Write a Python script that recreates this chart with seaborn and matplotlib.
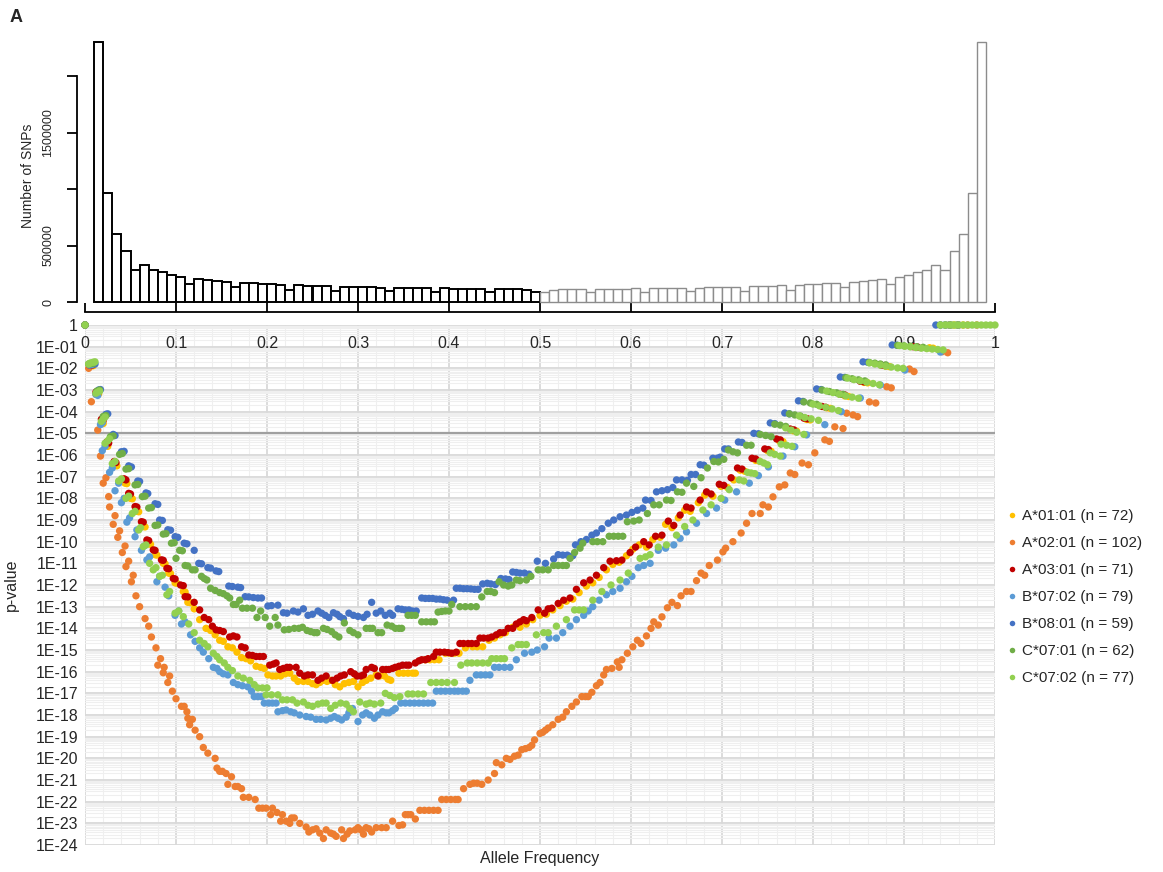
import numpy as np
import pandas as pd
import matplotlib
matplotlib.use("Agg")
import matplotlib.pyplot as plt
import seaborn as sns
from matplotlib.ticker import LogLocator, MultipleLocator, NullFormatter

sns.set_style("white")
plt.rcParams['font.family'] = ['Liberation Sans', 'DejaVu Sans']

# ---- histogram: number of SNPs per 0.01 allele-frequency bin (thousands) ----
snp_low = [2299, 967, 603, 450, 281, 328, 287, 263, 243, 225, 160, 204, 192, 186, 178,
           133, 169, 165, 162, 158, 154, 109, 148, 145, 142, 139, 101, 135, 133, 131,
           130, 128, 95, 126, 124, 123, 122, 90, 120, 118, 117, 116, 115, 88, 113, 112,
           111, 110, 92]          # bins 0.01 .. 0.50
snp_high = [92, 110, 111, 112, 113, 88, 115, 116, 117, 118, 120, 90, 122, 123, 124, 126,
            95, 128, 130, 131, 133, 135, 101, 139, 142, 145, 148, 109, 154, 158, 162, 165,
            169, 133, 178, 186, 192, 204, 160, 225, 243, 263, 287, 328, 281, 450, 603, 967,
            2299]                 # bins 0.50 .. 0.99

# ---- p-value scatter: (allele frequency, log10 p) ----
a0101 = [(0.0, 0.0), (0.006, -1.9), (0.009, -1.88), (0.012, -3.2), (0.015, -3.18), (0.018, -4.5),
         (0.02, -4.55), (0.023, -5.55), (0.025, -5.6), (0.033, -6.45), (0.035, -6.5), (0.044, -7.3),
         (0.046, -7.32), (0.05, -8.0), (0.052, -8.02), (0.057, -8.6), (0.059, -8.62), (0.064, -9.3),
         (0.066, -9.32), (0.07, -10.1), (0.072, -10.12), (0.077, -10.6), (0.079, -10.62), (0.086, -11.0),
         (0.088, -11.02), (0.092, -11.45), (0.094, -11.47), (0.099, -11.9), (0.101, -11.92), (0.108, -12.3),
         (0.11, -12.32), (0.113, -12.8), (0.116, -12.82), (0.12, -13.1), (0.126, -13.6), (0.133, -14.0),
         (0.138, -14.1), (0.143, -14.3), (0.148, -14.55), (0.152, -14.6), (0.157, -14.85), (0.162, -14.9),
         (0.167, -15.1), (0.172, -15.35), (0.177, -15.4), (0.182, -15.5), (0.188, -15.75), (0.193, -15.8),
         (0.197, -15.85), (0.201, -16.15), (0.206, -16.2), (0.21, -16.2), (0.215, -16.2), (0.22, -16.1),
         (0.225, -16.07), (0.23, -16.3), (0.234, -16.45), (0.24, -16.45), (0.245, -16.45), (0.25, -16.55),
         (0.254, -16.6), (0.258, -16.5), (0.262, -16.4), (0.266, -16.45), (0.27, -16.4), (0.275, -16.6),
         (0.28, -16.7), (0.285, -16.55), (0.29, -16.5), (0.295, -16.45), (0.3, -16.7), (0.305, -16.5),
         (0.309, -16.4), (0.314, -16.3), (0.32, -16.15), (0.324, -16.2), (0.329, -16.2), (0.333, -16.35),
         (0.336, -16.4), (0.345, -16.07), (0.35, -16.07), (0.355, -16.07), (0.36, -16.07), (0.363, -16.07),
         (0.374, -15.45), (0.379, -15.45), (0.384, -15.45), (0.389, -15.45), (0.396, -15.15), (0.401, -15.15),
         (0.406, -15.15), (0.411, -15.15), (0.418, -14.9), (0.426, -14.85), (0.431, -14.85), (0.437, -14.85),
         (0.444, -14.55), (0.45, -14.45), (0.456, -14.3), (0.462, -14.2), (0.47, -13.95), (0.478, -13.95),
         (0.485, -13.8), (0.492, -13.6), (0.5, -13.4), (0.507, -13.35), (0.514, -13.15), (0.522, -12.95),
         (0.529, -12.75), (0.536, -12.65), (0.543, -12.35), (0.551, -12.05), (0.558, -11.9), (0.565, -11.65),
         (0.573, -11.3), (0.58, -11.05), (0.587, -10.95), (0.595, -10.65), (0.602, -10.35), (0.609, -10.15),
         (0.617, -10.25), (0.624, -9.9), (0.632, -9.8), (0.638, -9.2), (0.645, -9.35), (0.652, -8.9),
         (0.659, -8.55), (0.665, -8.6), (0.674, -8.2), (0.681, -7.85), (0.69, -7.9), (0.699, -7.45),
         (0.706, -7.5), (0.713, -7.15), (0.72, -6.7), (0.725, -6.75), (0.737, -6.25), (0.741, -6.28),
         (0.75, -5.8), (0.754, -5.83), (0.763, -5.35), (0.767, -5.38), (0.778, -4.88), (0.782, -4.9),
         (0.793, -4.36), (0.797, -4.38), (0.815, -3.82), (0.819, -3.85), (0.835, -3.27), (0.839, -3.3),
         (0.856, -2.65), (0.86, -2.67), (0.88, -1.9), (0.884, -1.92), (0.928, -1.05), (0.932, -1.07),
         (0.955, 0.0), (0.965, 0.0)]

a0201 = [(0.0, 0.0), (0.004, -2.0), (0.007, -3.54), (0.014, -4.85), (0.017, -6.05), (0.02, -7.3),
         (0.023, -7.05), (0.026, -7.92), (0.027, -8.4), (0.031, -9.2), (0.033, -8.8), (0.036, -9.8),
         (0.038, -9.5), (0.041, -10.5), (0.044, -10.2), (0.045, -11.15), (0.048, -10.9), (0.051, -11.85),
         (0.053, -11.55), (0.056, -12.5), (0.06, -13.0), (0.066, -13.55), (0.07, -13.9), (0.073, -14.4),
         (0.078, -14.9), (0.08, -15.7), (0.083, -15.4), (0.086, -16.05), (0.087, -15.8), (0.091, -16.5),
         (0.093, -16.2), (0.096, -16.9), (0.1, -17.25), (0.106, -17.6), (0.109, -17.6), (0.112, -17.85),
         (0.113, -18.15), (0.115, -18.45), (0.118, -18.2), (0.121, -18.7), (0.126, -19.0), (0.13, -19.5),
         (0.135, -19.76), (0.143, -20.0), (0.145, -20.45), (0.148, -20.6), (0.151, -20.6), (0.155, -20.7),
         (0.157, -21.2), (0.161, -20.85), (0.165, -21.3), (0.168, -21.3), (0.172, -21.4), (0.174, -21.8),
         (0.18, -21.8), (0.187, -21.9), (0.191, -22.3), (0.195, -22.3), (0.199, -22.3), (0.204, -22.6),
         (0.206, -22.3), (0.211, -22.5), (0.215, -22.9), (0.217, -22.6), (0.221, -22.9), (0.225, -23.0),
         (0.227, -22.75), (0.23, -22.75), (0.236, -23.0), (0.243, -23.17), (0.246, -23.4), (0.25, -23.3),
         (0.254, -23.25), (0.258, -23.45), (0.262, -23.7), (0.265, -23.3), (0.27, -23.45), (0.273, -23.5),
         (0.276, -23.6), (0.282, -23.3), (0.284, -23.7), (0.288, -23.5), (0.291, -23.35), (0.297, -23.3),
         (0.3, -23.2), (0.303, -23.3), (0.306, -23.5), (0.309, -23.2), (0.312, -23.25), (0.315, -23.4),
         (0.32, -23.2), (0.326, -23.2), (0.331, -23.2), (0.338, -22.9), (0.345, -23.1), (0.349, -23.07),
         (0.352, -22.6), (0.355, -22.6), (0.358, -22.6), (0.363, -22.8), (0.368, -22.4), (0.373, -22.4),
         (0.378, -22.4), (0.383, -22.4), (0.388, -22.4), (0.392, -21.9), (0.397, -21.9), (0.402, -21.9),
         (0.407, -21.9), (0.41, -21.9), (0.416, -21.4), (0.423, -21.2), (0.427, -21.15), (0.431, -21.15),
         (0.436, -21.2), (0.443, -21.0), (0.45, -20.7), (0.452, -20.2), (0.458, -20.3), (0.463, -20.0),
         (0.467, -20.05), (0.472, -19.9), (0.476, -19.85), (0.48, -19.6), (0.484, -19.55), (0.488, -19.5),
         (0.491, -19.4), (0.494, -19.15), (0.5, -18.85), (0.503, -18.8), (0.506, -18.7), (0.509, -18.6),
         (0.514, -18.45), (0.52, -18.2), (0.525, -18.1), (0.529, -17.85), (0.535, -17.6), (0.54, -17.4),
         (0.546, -17.15), (0.55, -17.15), (0.553, -17.15), (0.557, -16.95), (0.562, -16.65), (0.566, -16.5),
         (0.57, -16.15), (0.573, -15.9), (0.579, -15.85), (0.585, -15.55), (0.587, -15.8), (0.59, -15.45),
         (0.596, -15.15), (0.602, -14.85), (0.607, -14.55), (0.611, -14.7), (0.617, -14.35), (0.622, -14.0),
         (0.625, -13.7), (0.63, -13.85), (0.634, -13.47), (0.64, -13.05), (0.645, -12.8), (0.651, -12.95),
         (0.655, -12.5), (0.661, -12.3), (0.666, -12.3), (0.672, -11.8), (0.677, -11.45), (0.681, -11.55),
         (0.686, -11.1), (0.695, -10.85), (0.701, -10.47), (0.704, -10.3), (0.712, -10.0), (0.721, -9.6),
         (0.727, -9.15), (0.733, -8.7), (0.742, -8.7), (0.745, -8.3), (0.751, -8.4), (0.756, -7.93),
         (0.763, -7.47), (0.769, -7.38), (0.775, -6.83), (0.78, -6.9), (0.788, -6.37), (0.795, -6.45),
         (0.802, -5.9), (0.813, -5.3), (0.818, -5.37), (0.824, -4.7), (0.833, -4.78), (0.837, -4.07),
         (0.844, -4.15), (0.849, -4.23), (0.862, -3.55), (0.869, -3.6), (0.881, -2.85), (0.886, -2.9),
         (0.906, -2.03), (0.911, -2.15), (0.942, -1.23), (0.948, -1.28), (0.97, 0.0), (0.98, 0.0)]

a0301 = [(0.0, 0.0), (0.005, -1.85), (0.008, -1.85), (0.012, -3.1), (0.014, -3.15), (0.018, -4.35),
         (0.02, -4.4), (0.024, -5.4), (0.026, -5.45), (0.032, -6.3), (0.034, -6.35), (0.043, -7.1),
         (0.045, -7.15), (0.048, -7.77), (0.05, -7.8), (0.055, -8.38), (0.057, -8.4), (0.062, -9.08),
         (0.064, -9.1), (0.068, -9.92), (0.07, -9.95), (0.075, -10.38), (0.077, -10.4), (0.084, -10.84),
         (0.086, -10.86), (0.09, -11.23), (0.092, -11.25), (0.097, -11.7), (0.099, -11.72), (0.105, -12.0),
         (0.108, -12.03), (0.11, -12.54), (0.113, -12.55), (0.12, -12.8), (0.126, -13.15), (0.131, -13.5),
         (0.136, -13.6), (0.14, -13.9), (0.144, -14.07), (0.148, -14.1), (0.152, -14.15), (0.159, -14.4),
         (0.163, -14.35), (0.167, -14.4), (0.172, -14.85), (0.176, -14.9), (0.18, -15.23), (0.184, -15.25),
         (0.188, -15.3), (0.192, -15.3), (0.196, -15.3), (0.203, -15.7), (0.207, -15.65), (0.21, -15.6),
         (0.214, -15.9), (0.218, -15.85), (0.222, -15.8), (0.225, -15.8), (0.232, -15.8), (0.236, -16.07),
         (0.241, -16.2), (0.245, -16.15), (0.25, -16.15), (0.256, -16.4), (0.26, -16.3), (0.265, -16.2),
         (0.272, -16.4), (0.277, -16.3), (0.281, -16.2), (0.285, -16.15), (0.292, -16.0), (0.296, -16.1),
         (0.299, -16.2), (0.303, -16.2), (0.306, -16.15), (0.309, -15.9), (0.315, -15.8), (0.318, -15.85),
         (0.322, -16.2), (0.327, -15.9), (0.331, -15.9), (0.334, -15.9), (0.338, -15.85), (0.341, -15.8),
         (0.345, -15.75), (0.349, -15.7), (0.353, -15.7), (0.356, -15.7), (0.363, -15.6), (0.367, -15.5),
         (0.37, -15.45), (0.374, -15.45), (0.377, -15.4), (0.383, -15.3), (0.386, -15.1), (0.39, -15.1),
         (0.395, -15.1), (0.399, -15.12), (0.403, -15.15), (0.408, -15.1), (0.412, -14.7), (0.416, -14.7),
         (0.421, -14.7), (0.425, -14.7), (0.43, -14.7), (0.434, -14.45), (0.438, -14.45), (0.443, -14.45),
         (0.447, -14.4), (0.452, -14.3), (0.456, -14.2), (0.46, -14.2), (0.465, -14.0), (0.47, -14.0),
         (0.474, -13.8), (0.478, -13.7), (0.482, -13.6), (0.485, -13.65), (0.491, -13.5), (0.498, -13.15),
         (0.505, -13.3), (0.509, -13.1), (0.513, -13.07), (0.52, -12.85), (0.526, -12.7), (0.533, -12.6),
         (0.54, -12.2), (0.548, -11.9), (0.555, -11.77), (0.562, -11.55), (0.57, -11.2), (0.577, -10.9),
         (0.584, -10.88), (0.59, -10.85), (0.599, -10.5), (0.605, -10.25), (0.614, -10.0), (0.62, -10.15),
         (0.627, -9.75), (0.634, -9.7), (0.641, -9.05), (0.647, -9.25), (0.654, -8.77), (0.661, -8.4),
         (0.666, -8.45), (0.676, -8.08), (0.683, -7.7), (0.688, -7.8), (0.697, -7.35), (0.702, -7.4),
         (0.71, -7.05), (0.717, -6.6), (0.722, -6.65), (0.733, -6.15), (0.737, -6.18), (0.747, -5.72),
         (0.751, -5.75), (0.76, -5.26), (0.764, -5.3), (0.775, -4.8), (0.779, -4.84), (0.79, -4.3),
         (0.794, -4.33), (0.81, -3.76), (0.814, -3.8), (0.83, -3.2), (0.835, -3.23), (0.852, -2.6),
         (0.856, -2.62), (0.875, -1.85), (0.879, -1.87), (0.91, -1.0), (0.915, -1.02), (0.95, 0.0),
         (0.96, 0.0)]

b0702 = [(0.0, 0.0), (0.005, -1.85), (0.008, -1.83), (0.012, -3.2), (0.014, -3.25), (0.017, -4.6),
         (0.019, -4.5), (0.019, -5.8), (0.022, -5.6), (0.027, -6.8), (0.03, -6.6), (0.033, -7.65),
         (0.037, -7.3), (0.04, -8.2), (0.043, -8.0), (0.046, -9.1), (0.049, -8.9), (0.055, -9.77),
         (0.057, -9.46), (0.062, -10.4), (0.065, -10.2), (0.068, -10.84), (0.071, -10.7), (0.079, -11.85),
         (0.082, -11.6), (0.088, -12.1), (0.092, -12.5), (0.099, -13.4), (0.103, -13.2), (0.106, -13.8),
         (0.11, -13.7), (0.116, -14.3), (0.121, -14.6), (0.126, -14.9), (0.13, -15.1), (0.136, -15.4),
         (0.141, -15.8), (0.145, -15.85), (0.148, -16.0), (0.152, -16.1), (0.157, -16.15), (0.163, -16.5),
         (0.168, -16.6), (0.173, -16.65), (0.179, -16.7), (0.183, -16.9), (0.186, -17.15), (0.19, -17.15),
         (0.194, -17.15), (0.197, -17.45), (0.202, -17.45), (0.206, -17.45), (0.21, -17.45), (0.212, -17.85),
         (0.217, -17.8), (0.221, -17.77), (0.226, -17.85), (0.23, -17.9), (0.236, -18.0), (0.243, -18.07),
         (0.248, -18.1), (0.254, -18.2), (0.259, -18.2), (0.265, -18.23), (0.27, -18.15), (0.274, -18.07),
         (0.278, -18.15), (0.282, -18.23), (0.287, -18.1), (0.29, -17.9), (0.294, -17.7), (0.3, -18.3),
         (0.305, -18.0), (0.309, -17.9), (0.313, -18.0), (0.318, -18.15), (0.322, -18.0), (0.327, -17.85),
         (0.331, -17.9), (0.334, -17.9), (0.338, -17.8), (0.341, -17.7), (0.347, -17.45), (0.352, -17.45),
         (0.357, -17.45), (0.362, -17.45), (0.367, -17.45), (0.372, -17.45), (0.377, -17.45), (0.382, -17.45),
         (0.386, -16.9), (0.391, -16.9), (0.396, -16.9), (0.401, -16.9), (0.406, -16.9), (0.41, -16.9),
         (0.415, -16.9), (0.419, -16.9), (0.423, -16.4), (0.43, -16.15), (0.435, -16.15), (0.44, -16.15),
         (0.445, -16.15), (0.45, -15.8), (0.455, -15.8), (0.461, -15.8), (0.467, -15.8), (0.474, -15.45),
         (0.483, -15.15), (0.491, -15.1), (0.497, -15.0), (0.505, -14.85), (0.51, -14.45), (0.518, -14.45),
         (0.525, -14.2), (0.533, -13.9), (0.54, -13.6), (0.548, -13.4), (0.553, -13.2), (0.558, -13.0),
         (0.565, -12.7), (0.573, -12.45), (0.58, -12.3), (0.588, -12.15), (0.595, -11.85), (0.601, -11.6),
         (0.608, -11.2), (0.614, -11.1), (0.621, -11.0), (0.63, -10.4), (0.638, -10.3), (0.647, -10.15),
         (0.654, -9.85), (0.661, -9.55), (0.672, -9.15), (0.683, -8.7), (0.694, -8.45), (0.703, -8.08),
         (0.716, -7.7), (0.73, -7.3), (0.74, -6.95), (0.751, -6.55), (0.767, -6.05), (0.78, -5.62),
         (0.793, -5.07), (0.813, -4.6), (0.831, -4.0), (0.852, -3.37), (0.874, -2.77), (0.901, -2.08),
         (0.94, -1.25), (0.95, 0.0), (0.96, 0.0)]

b0801 = [(0.0, 0.0), (0.006, -1.78), (0.009, -1.75), (0.011, -1.8), (0.015, -3.0), (0.017, -2.98),
         (0.023, -4.12), (0.025, -4.1), (0.031, -5.05), (0.033, -5.1), (0.04, -5.85), (0.043, -5.83),
         (0.048, -6.5), (0.051, -6.55), (0.058, -7.2), (0.06, -7.22), (0.067, -7.75), (0.069, -7.78),
         (0.077, -8.25), (0.08, -8.28), (0.082, -9.0), (0.085, -9.02), (0.091, -9.45), (0.094, -9.47),
         (0.099, -9.77), (0.102, -9.8), (0.109, -10.07), (0.112, -10.1), (0.12, -10.4), (0.125, -11.0),
         (0.128, -11.02), (0.135, -11.2), (0.138, -11.22), (0.144, -11.35), (0.147, -11.38), (0.158, -12.05),
         (0.162, -12.07), (0.168, -12.1), (0.171, -12.12), (0.176, -12.54), (0.18, -12.55), (0.185, -12.58),
         (0.19, -12.6), (0.194, -12.6), (0.201, -12.97), (0.205, -12.95), (0.212, -12.93), (0.218, -13.28),
         (0.222, -13.3), (0.229, -13.2), (0.234, -13.25), (0.24, -13.1), (0.245, -13.4), (0.25, -13.35),
         (0.256, -13.2), (0.26, -13.3), (0.264, -13.4), (0.268, -13.5), (0.273, -13.28), (0.277, -13.35),
         (0.28, -13.46), (0.284, -13.55), (0.29, -13.3), (0.295, -13.4), (0.3, -13.45), (0.306, -13.5),
         (0.31, -13.35), (0.315, -12.8), (0.32, -13.3), (0.325, -13.2), (0.33, -13.4), (0.335, -13.3),
         (0.338, -13.4), (0.344, -13.1), (0.348, -13.12), (0.352, -13.15), (0.356, -13.15), (0.36, -13.2),
         (0.364, -13.2), (0.37, -12.6), (0.374, -12.62), (0.378, -12.62), (0.382, -12.62), (0.386, -12.65),
         (0.39, -12.65), (0.394, -12.68), (0.398, -12.7), (0.405, -12.7), (0.408, -12.15), (0.412, -12.15),
         (0.416, -12.17), (0.42, -12.17), (0.424, -12.18), (0.428, -12.2), (0.432, -12.2), (0.437, -11.95),
         (0.442, -11.92), (0.446, -11.95), (0.451, -11.98), (0.457, -11.7), (0.462, -11.72), (0.466, -11.75),
         (0.47, -11.4), (0.474, -11.42), (0.478, -11.45), (0.483, -11.45), (0.488, -11.5), (0.497, -10.9),
         (0.506, -11.0), (0.515, -10.8), (0.52, -10.6), (0.525, -10.62), (0.53, -10.62), (0.536, -10.65),
         (0.539, -10.15), (0.545, -10.0), (0.551, -9.9), (0.557, -9.7), (0.562, -9.6), (0.568, -9.4),
         (0.575, -9.15), (0.581, -9.0), (0.588, -8.85), (0.595, -8.77), (0.601, -8.65), (0.607, -8.55),
         (0.613, -8.45), (0.616, -8.08), (0.622, -8.1), (0.628, -7.7), (0.634, -7.65), (0.64, -7.6),
         (0.646, -7.5), (0.65, -7.15), (0.656, -7.15), (0.662, -7.17), (0.666, -6.9), (0.671, -6.9),
         (0.676, -6.45), (0.68, -6.47), (0.69, -6.15), (0.695, -6.15), (0.698, -6.1), (0.703, -5.72),
         (0.707, -5.72), (0.718, -5.4), (0.722, -5.42), (0.735, -5.0), (0.74, -5.02), (0.753, -4.52),
         (0.758, -4.55), (0.769, -4.06), (0.774, -4.1), (0.784, -3.5), (0.789, -3.53), (0.804, -2.95),
         (0.809, -2.98), (0.83, -2.4), (0.835, -2.42), (0.855, -1.7), (0.86, -1.72), (0.887, -0.92),
         (0.892, -0.93), (0.935, 0.0), (0.94, 0.0), (0.945, 0.0)]

c0701 = [(0.0, 0.0), (0.004, -1.8), (0.007, -1.78), (0.009, -1.77), (0.013, -3.05), (0.016, -3.0),
         (0.02, -4.22), (0.023, -4.18), (0.028, -5.15), (0.031, -5.12), (0.038, -5.97), (0.041, -5.93),
         (0.045, -6.65), (0.048, -6.63), (0.055, -7.38), (0.058, -7.36), (0.063, -7.92), (0.066, -7.9),
         (0.07, -8.45), (0.073, -8.43), (0.077, -9.25), (0.08, -9.23), (0.086, -9.65), (0.089, -9.63),
         (0.095, -10.07), (0.098, -10.05), (0.1, -10.77), (0.104, -10.4), (0.107, -10.42), (0.11, -11.1),
         (0.113, -11.12), (0.118, -11.3), (0.121, -11.3), (0.128, -11.6), (0.131, -11.7), (0.134, -11.77),
         (0.138, -12.15), (0.143, -12.25), (0.148, -12.35), (0.152, -12.4), (0.156, -12.5), (0.159, -12.6),
         (0.163, -12.9), (0.166, -12.9), (0.17, -12.7), (0.173, -13.07), (0.178, -13.07), (0.184, -13.07),
         (0.189, -13.5), (0.193, -13.2), (0.198, -13.5), (0.203, -13.9), (0.209, -13.5), (0.212, -13.85),
         (0.219, -14.07), (0.224, -14.05), (0.23, -14.0), (0.235, -14.0), (0.239, -13.95), (0.244, -14.1),
         (0.248, -14.15), (0.252, -14.2), (0.255, -14.2), (0.262, -14.0), (0.266, -14.05), (0.271, -14.15),
         (0.275, -14.3), (0.279, -14.4), (0.285, -13.75), (0.291, -14.1), (0.295, -14.2), (0.3, -14.3),
         (0.309, -14.0), (0.313, -14.0), (0.316, -14.0), (0.322, -14.2), (0.326, -14.2), (0.332, -13.85),
         (0.337, -13.9), (0.341, -14.0), (0.345, -14.0), (0.348, -14.0), (0.355, -13.4), (0.359, -13.4),
         (0.363, -13.4), (0.37, -13.7), (0.375, -13.7), (0.38, -13.7), (0.384, -13.7), (0.388, -13.25),
         (0.392, -13.22), (0.396, -13.2), (0.4, -13.2), (0.403, -12.9), (0.412, -13.0), (0.418, -13.0),
         (0.424, -13.0), (0.43, -13.0), (0.436, -12.55), (0.442, -12.3), (0.446, -12.3), (0.45, -12.35),
         (0.455, -11.85), (0.46, -12.0), (0.465, -12.05), (0.469, -12.0), (0.474, -11.77), (0.478, -11.8),
         (0.485, -11.77), (0.49, -11.6), (0.498, -11.3), (0.503, -11.3), (0.509, -11.3), (0.515, -11.1),
         (0.52, -11.1), (0.525, -11.1), (0.529, -11.1), (0.533, -10.77), (0.538, -10.5), (0.544, -10.3),
         (0.547, -10.07), (0.558, -10.0), (0.563, -10.0), (0.569, -10.0), (0.576, -9.75), (0.581, -9.75),
         (0.586, -9.75), (0.591, -9.75), (0.596, -9.08), (0.603, -9.05), (0.609, -9.0), (0.618, -8.7),
         (0.625, -8.3), (0.631, -8.3), (0.639, -8.08), (0.644, -8.1), (0.651, -7.7), (0.656, -7.72),
         (0.661, -7.3), (0.669, -7.45), (0.677, -7.05), (0.684, -6.6), (0.691, -6.3), (0.696, -6.32),
         (0.702, -6.2), (0.707, -5.77), (0.712, -5.85), (0.717, -5.9), (0.727, -5.55), (0.732, -5.55),
         (0.742, -5.05), (0.748, -5.1), (0.754, -5.15), (0.758, -4.58), (0.764, -4.62), (0.77, -4.68),
         (0.774, -4.1), (0.78, -4.15), (0.786, -4.2), (0.79, -3.55), (0.797, -3.6), (0.804, -3.66),
         (0.81, -3.0), (0.818, -3.07), (0.826, -3.13), (0.833, -3.2), (0.836, -2.43), (0.843, -2.48),
         (0.85, -2.53), (0.857, -2.58), (0.862, -1.73), (0.868, -1.76), (0.874, -1.8), (0.88, -1.84),
         (0.893, -0.94), (0.9, -0.96), (0.907, -0.98), (0.914, -1.0), (0.921, -1.03), (0.94, 0.0),
         (0.946, 0.0), (0.952, 0.0), (0.958, 0.0)]

c0702 = [(0.0, 0.0), (0.004, -1.8), (0.006, -1.75), (0.009, -1.72), (0.011, -1.7), (0.012, -3.15),
         (0.014, -3.1), (0.016, -3.05), (0.018, -4.45), (0.02, -4.35), (0.022, -4.25), (0.022, -5.46),
         (0.025, -5.35), (0.027, -5.25), (0.03, -6.4), (0.033, -6.3), (0.037, -7.2), (0.04, -7.1),
         (0.045, -8.0), (0.048, -7.9), (0.052, -8.7), (0.055, -8.6), (0.059, -9.46), (0.061, -9.35),
         (0.064, -10.23), (0.067, -10.15), (0.071, -11.0), (0.075, -11.3), (0.078, -11.2), (0.082, -11.6),
         (0.085, -11.55), (0.09, -12.45), (0.093, -12.3), (0.099, -13.3), (0.103, -13.2), (0.108, -13.46),
         (0.114, -13.8), (0.12, -14.2), (0.126, -14.55), (0.131, -14.7), (0.135, -14.85), (0.141, -15.15),
         (0.145, -15.3), (0.148, -15.45), (0.153, -15.6), (0.157, -15.8), (0.162, -15.95), (0.168, -16.2),
         (0.174, -16.3), (0.181, -16.4), (0.186, -16.6), (0.19, -16.75), (0.195, -16.75), (0.2, -16.75),
         (0.199, -17.07), (0.205, -17.07), (0.212, -17.07), (0.217, -17.3), (0.222, -17.3), (0.228, -17.3),
         (0.233, -17.45), (0.24, -17.4), (0.245, -17.55), (0.25, -17.6), (0.256, -17.5), (0.261, -17.45),
         (0.265, -17.45), (0.27, -17.7), (0.275, -17.55), (0.281, -17.45), (0.287, -17.5), (0.291, -17.7),
         (0.295, -17.85), (0.302, -17.4), (0.309, -17.5), (0.313, -17.45), (0.318, -17.5), (0.325, -17.45),
         (0.33, -17.0), (0.335, -17.1), (0.34, -17.2), (0.346, -17.15), (0.355, -17.03), (0.36, -17.03),
         (0.366, -17.03), (0.372, -17.03), (0.38, -16.5), (0.386, -16.5), (0.392, -16.5), (0.398, -16.5),
         (0.406, -16.5), (0.413, -15.7), (0.42, -15.6), (0.425, -15.6), (0.431, -15.6), (0.437, -15.6),
         (0.443, -15.6), (0.447, -15.4), (0.452, -15.4), (0.457, -15.4), (0.461, -15.4), (0.469, -14.9),
         (0.476, -14.75), (0.48, -14.75), (0.485, -14.75), (0.496, -14.3), (0.504, -14.2), (0.509, -14.2),
         (0.518, -13.9), (0.529, -13.6), (0.538, -13.15), (0.543, -13.15), (0.548, -13.15), (0.558, -12.7),
         (0.568, -12.3), (0.578, -12.0), (0.588, -11.77), (0.597, -11.45), (0.61, -10.77), (0.616, -10.7),
         (0.621, -10.6), (0.63, -10.25), (0.639, -10.15), (0.65, -9.7), (0.659, -9.3), (0.668, -9.0),
         (0.679, -8.54), (0.688, -8.3), (0.699, -8.0), (0.708, -7.6), (0.719, -7.15), (0.724, -7.2),
         (0.728, -6.8), (0.732, -6.83), (0.736, -6.86), (0.742, -6.3), (0.746, -6.37), (0.75, -6.45),
         (0.753, -5.9), (0.758, -5.97), (0.764, -6.05), (0.765, -5.5), (0.771, -5.55), (0.777, -5.6),
         (0.77, -4.75), (0.776, -4.85), (0.782, -4.95), (0.79, -5.05), (0.785, -4.2), (0.791, -4.27),
         (0.798, -4.33), (0.806, -4.4), (0.8, -3.65), (0.807, -3.73), (0.814, -3.8), (0.821, -3.87),
         (0.828, -3.95), (0.815, -3.05), (0.822, -3.12), (0.829, -3.2), (0.836, -3.27), (0.843, -3.33),
         (0.85, -3.38), (0.838, -2.45), (0.845, -2.52), (0.852, -2.58), (0.859, -2.64), (0.866, -2.7),
         (0.873, -2.76), (0.862, -1.75), (0.868, -1.8), (0.874, -1.85), (0.88, -1.9), (0.886, -1.94),
         (0.893, -1.98), (0.899, -2.0), (0.895, -0.95), (0.901, -0.98), (0.907, -1.01), (0.913, -1.04),
         (0.919, -1.07), (0.925, -1.09), (0.931, -1.11), (0.937, -1.13), (0.943, -1.15), (0.94, 0.0),
         (0.945, 0.0), (0.95, 0.0), (0.955, 0.0), (0.96, 0.0), (0.965, 0.0), (0.97, 0.0), (0.975, 0.0),
         (0.98, 0.0), (0.985, 0.0), (0.99, 0.0), (0.995, 0.0), (1.0, 0.0)]

alleles = ["A*01:01 (n = 72)", "A*02:01 (n = 102)", "A*03:01 (n = 71)", "B*07:02 (n = 79)",
           "B*08:01 (n = 59)", "C*07:01 (n = 62)", "C*07:02 (n = 77)"]
colors = ["#FFC000", "#ED7D31", "#C00000", "#5B9BD5", "#4472C4", "#70AD47", "#92D050"]
series_points = [a0101, a0201, a0301, b0702, b0801, c0701, c0702]
freq_ticks = [0.0, 0.1, 0.2, 0.3, 0.4, 0.5, 0.6, 0.7, 0.8, 0.9, 1.0]
freq_labels = ["0", "0.1", "0.2", "0.3", "0.4", "0.5", "0.6", "0.7", "0.8", "0.9", "1"]

frames = []
for name, pts in zip(alleles, series_points):
    af, lp = zip(*pts)
    frames.append(pd.DataFrame({"freq": af, "p": 10.0 ** np.array(lp), "allele": name}))
df = pd.concat(frames, ignore_index=True)

hist_low = pd.DataFrame({"af": np.round(np.arange(0.015, 0.5, 0.01), 3),
                         "n": np.array(snp_low) * 1000})
hist_high = pd.DataFrame({"af": np.round(np.arange(0.505, 0.99, 0.01), 3),
                          "n": np.array(snp_high) * 1000})

# ---- figure ----
W, H = 1163, 872
fig = plt.figure(figsize=(W / 100, H / 100), dpi=100)
ax_h = fig.add_axes([85 / W, 1 - 312 / H, 910 / W, 272 / H])
ax_p = fig.add_axes([85 / W, 1 - 845 / H, 910 / W, 520 / H])

# histogram (left half black, right half grey)
sns.histplot(data=hist_low, x="af", weights="n", binwidth=0.01, binrange=(0.01, 0.5),
             color="white", edgecolor="black", linewidth=1.4, alpha=1, ax=ax_h)
sns.histplot(data=hist_high, x="af", weights="n", binwidth=0.01, binrange=(0.5, 0.99),
             color="white", edgecolor="#8c8c8c", linewidth=1.0, alpha=1, ax=ax_h)
ax_h.set_xlim(0, 1)
ax_h.set_ylim(-88500, 2318700)
for s in ["top", "right"]:
    ax_h.spines[s].set_visible(False)
ax_h.spines["left"].set_bounds(0, 2000000)
ax_h.spines["left"].set_position(("outward", 6))
ax_h.spines["bottom"].set_bounds(0, 1)
for s in ["left", "bottom"]:
    ax_h.spines[s].set_color("black")
    ax_h.spines[s].set_linewidth(1.3)
ax_h.set_xticks(freq_ticks)
ax_h.tick_params(axis="x", direction="in", length=6.5, width=1.3, color="black",
                 labelbottom=False, bottom=True)
ax_h.set_yticks([0, 500000, 1000000, 1500000, 2000000],
                ["0", "500000", "", "1500000", ""])
ax_h.tick_params(axis="y", direction="out", length=7, width=1.3, color="black",
                 labelsize=9, pad=9, labelrotation=90, left=True)
for lab in ax_h.get_yticklabels():
    lab.set_verticalalignment("center")
ax_h.set_xlabel("")
ax_h.set_ylabel("Number of SNPs", fontsize=10, labelpad=5)

# p-value scatter
ax_p.set_yscale("log")
ax_p.set_xlim(0, 1)
ax_p.set_ylim(1e-24, 1)
ax_p.axhline(1e-5, color="#a0a0a0", linewidth=1.6, zorder=2)
sns.scatterplot(data=df, x="freq", y="p", hue="allele", hue_order=alleles, palette=colors,
                s=28, linewidth=0, edgecolor="none", ax=ax_p, clip_on=False, zorder=3)

ytick_vals = [10.0 ** (-k) for k in range(25)]
ytick_labs = ["1"] + ["1E-%02d" % k for k in range(1, 25)]
ax_p.set_yticks(ytick_vals, ytick_labs)
ax_p.yaxis.set_minor_locator(LogLocator(base=10, subs=np.arange(2, 10), numticks=400))
ax_p.yaxis.set_minor_formatter(NullFormatter())
ax_p.set_xticks(freq_ticks)
ax_p.xaxis.set_minor_locator(MultipleLocator(0.02))
ax_p.grid(True, which="major", color="#d9d9d9", linewidth=1.3, zorder=0)
ax_p.grid(True, which="minor", color="#efefef", linewidth=0.8, zorder=0)
ax_p.set_axisbelow(True)
for s in ax_p.spines.values():
    s.set_visible(False)
ax_p.tick_params(axis="x", which="both", length=0, bottom=False, top=False,
                 labelbottom=False, labeltop=False)
ax_p.tick_params(axis="y", which="both", length=0, pad=5, labelsize=11.5, labelcolor="#262626")
# Excel-style horizontal axis labels sit just under the p = 1 line, on top of the grid
for xv, txt in zip(freq_ticks, freq_labels):
    ax_p.text(xv, 0.965, txt, transform=ax_p.get_xaxis_transform(), ha="center", va="center",
              fontsize=11.5, color="#262626", zorder=2.5)
ax_p.set_xlabel("Allele Frequency", fontsize=11.5, labelpad=4, color="#262626")
ax_p.set_ylabel("p-value", fontsize=11.5, labelpad=12, color="#262626")

handles, labels = ax_p.get_legend_handles_labels()
ax_p.legend(handles, labels, loc="center left", bbox_to_anchor=(1000 / W, 1 - 597 / H),
            bbox_transform=fig.transFigure, frameon=False, fontsize=11, markerscale=0.75,
            handlelength=0.6, handletextpad=0.35, labelspacing=0.85, borderpad=0)

fig.text(10 / W, 1 - 18 / H, "A", fontsize=13, fontweight="bold", va="center", ha="left")

fig.savefig("out.png", dpi=100)
